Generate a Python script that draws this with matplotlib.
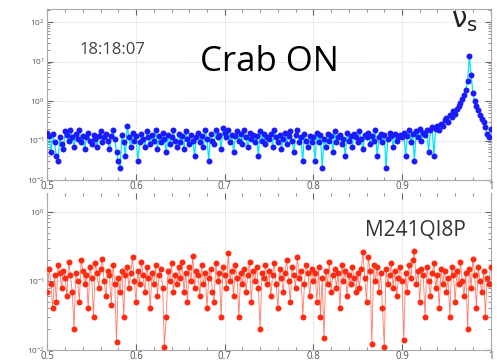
import numpy as np
import matplotlib
matplotlib.use("Agg")
import matplotlib.pyplot as plt
from matplotlib.ticker import LogLocator, MultipleLocator, NullFormatter

# frequency grid (0.5 .. 1.0, 251 bins)
freq = np.linspace(0.5, 1.0, 251)

# top panel: Crab ON power spectrum
crab_on = [
    0.16, 0.13, 0.05, 0.15, 0.09, 0.04, 0.03, 0.12, 0.08, 0.06, 0.17, 0.14, 0.10, 0.19, 0.12, 0.07, 0.15, 0.11, 0.18, 0.09, 0.13, 0.06, 0.12, 0.16, 0.10,
    0.08, 0.14, 0.11, 0.07, 0.13, 0.17, 0.09, 0.12, 0.15, 0.10, 0.06, 0.13, 0.18, 0.11, 0.05, 0.03, 0.02, 0.14, 0.09, 0.04, 0.24, 0.12, 0.07, 0.16, 0.10,
    0.13, 0.03, 0.09, 0.15, 0.11, 0.07, 0.17, 0.12, 0.08, 0.14, 0.10, 0.19, 0.06, 0.13, 0.09, 0.16, 0.11, 0.05, 0.14, 0.08, 0.12, 0.18, 0.10, 0.07, 0.15,
    0.09, 0.13, 0.06, 0.17, 0.11, 0.08, 0.14, 0.10, 0.04, 0.12, 0.16, 0.09, 0.13, 0.07, 0.18, 0.11, 0.03, 0.15, 0.10, 0.08, 0.19, 0.12, 0.14, 0.06, 0.21,
    0.16, 0.12, 0.18, 0.09, 0.14, 0.05, 0.13, 0.17, 0.10, 0.15, 0.08, 0.19, 0.12, 0.07, 0.16, 0.11, 0.14, 0.09, 0.13, 0.04, 0.17, 0.10, 0.15, 0.08, 0.12,
    0.11, 0.15, 0.07, 0.18, 0.12, 0.09, 0.14, 0.06, 0.11, 0.16, 0.08, 0.13, 0.17, 0.10, 0.05, 0.14, 0.19, 0.09, 0.12, 0.03, 0.15, 0.10, 0.07, 0.13, 0.09,
    0.12, 0.03, 0.16, 0.09, 0.14, 0.02, 0.11, 0.07, 0.15, 0.10, 0.13, 0.05, 0.17, 0.09, 0.12, 0.14, 0.08, 0.11, 0.04, 0.16, 0.10, 0.13, 0.07, 0.15, 0.12,
    0.09, 0.17, 0.11, 0.06, 0.14, 0.12, 0.16, 0.08, 0.13, 0.10, 0.18, 0.04, 0.12, 0.15, 0.09, 0.14, 0.02, 0.11, 0.16, 0.13, 0.07, 0.15, 0.10, 0.12, 0.14,
    0.12, 0.16, 0.04, 0.13, 0.19, 0.09, 0.15, 0.03, 0.17, 0.12, 0.20, 0.10, 0.16, 0.14, 0.19, 0.05, 0.18, 0.22, 0.04, 0.20, 0.24, 0.19, 0.27, 0.23, 0.33,
    0.38, 0.30, 0.45, 0.40, 0.55, 0.48, 0.62, 0.75, 0.90, 1.1, 1.4, 1.9, 3.2, 14.0, 4.5, 1.6, 1.0, 0.75, 0.58, 0.45, 0.35, 0.30, 0.22, 0.15, 0.12,
    0.20,
]

# bottom panel: M241QI8P
m241 = [
    0.07, 0.15, 0.09, 0.04, 0.12, 0.05, 0.17, 0.13, 0.08, 0.14, 0.11, 0.06, 0.19, 0.12, 0.07, 0.02, 0.13, 0.10, 0.05, 0.20, 0.14, 0.09, 0.12, 0.04, 0.16,
    0.11, 0.03, 0.18, 0.13, 0.08, 0.15, 0.21, 0.10, 0.06, 0.14, 0.12, 0.045, 0.17, 0.09, 0.013, 0.11, 0.07, 0.14, 0.03, 0.12, 0.16, 0.08, 0.13, 0.22, 0.10,
    0.05, 0.14, 0.09, 0.19, 0.12, 0.07, 0.16, 0.11, 0.04, 0.13, 0.09, 0.17, 0.06, 0.12, 0.15, 0.08, 0.011, 0.03, 0.14, 0.10, 0.18, 0.07, 0.12, 0.09, 0.16,
    0.11, 0.19, 0.07, 0.13, 0.05, 0.16, 0.10, 0.23, 0.08, 0.14, 0.12, 0.06, 0.17, 0.09, 0.13, 0.04, 0.11, 0.15, 0.07, 0.05, 0.18, 0.10, 0.13, 0.03, 0.16,
    0.12, 0.08, 0.25, 0.10, 0.14, 0.06, 0.17, 0.11, 0.03, 0.13, 0.09, 0.15, 0.07, 0.12, 0.19, 0.05, 0.14, 0.10, 0.16, 0.08, 0.02, 0.13, 0.11, 0.17, 0.09,
    0.14, 0.06, 0.12, 0.18, 0.09, 0.04, 0.15, 0.11, 0.07, 0.13, 0.20, 0.10, 0.05, 0.16, 0.12, 0.08, 0.22, 0.11, 0.14, 0.03, 0.09, 0.17, 0.13, 0.06, 0.15,
    0.10, 0.13, 0.05, 0.16, 0.03, 0.11, 0.015, 0.14, 0.09, 0.19, 0.07, 0.12, 0.15, 0.08, 0.13, 0.04, 0.17, 0.10, 0.14, 0.06, 0.12, 0.09, 0.16, 0.11, 0.07,
    0.13, 0.08, 0.15, 0.26, 0.11, 0.05, 0.22, 0.14, 0.012, 0.17, 0.10, 0.16, 0.07, 0.13, 0.04, 0.011, 0.15, 0.09, 0.12, 0.18, 0.08, 0.14, 0.06, 0.11, 0.16,
    0.10, 0.014, 0.13, 0.07, 0.17, 0.11, 0.20, 0.27, 0.09, 0.14, 0.05, 0.15, 0.12, 0.03, 0.16, 0.10, 0.06, 0.13, 0.18, 0.08, 0.12, 0.04, 0.15, 0.09, 0.14,
    0.07, 0.11, 0.03, 0.16, 0.12, 0.05, 0.14, 0.09, 0.19, 0.10, 0.06, 0.13, 0.02, 0.15, 0.08, 0.21, 0.12, 0.04, 0.16, 0.10, 0.07, 0.14, 0.03, 0.11, 0.09,
    0.16,
]

x_ticks = [0.5, 0.6, 0.7, 0.8, 0.9, 1.0]
x_labels = ["0.5", "0.6", "0.7", "0.8", "0.9", "1"]

plt.rcParams['font.family'] = ['Open Sans', 'DejaVu Sans']

fig = plt.figure(figsize=(4.97, 3.63), dpi=100)
ax1 = fig.add_axes([0.0954, 0.504, 0.8918, 0.471])
ax2 = fig.add_axes([0.0954, 0.036, 0.8918, 0.432])


def style(ax, ylim):
    ax.set_yscale('log')
    ax.set_xlim(0.5, 1.0)
    ax.set_ylim(*ylim)
    ax.set_xticks(x_ticks)
    ax.set_xticklabels(x_labels)
    ax.xaxis.set_minor_locator(MultipleLocator(0.02))
    ax.yaxis.set_major_locator(LogLocator(base=10, numticks=10))
    ax.yaxis.set_minor_locator(LogLocator(base=10, subs=np.arange(2, 10), numticks=20))
    ax.yaxis.set_minor_formatter(NullFormatter())
    ax.tick_params(which='both', direction='in', top=True, right=True, colors='#666666',
                   labelcolor='#555555', labelsize=7, pad=1)
    ax.tick_params(which='major', length=4, width=0.8)
    ax.tick_params(which='minor', length=2, width=0.5)
    ax.tick_params(axis='y', labelsize=6, pad=2)
    ax.grid(True, which='major', color='#cccccc', linestyle=':', linewidth=0.7)
    for s in ax.spines.values():
        s.set_color('#aaaaaa')
        s.set_linewidth(0.8)


style(ax1, (1e-2, 10 ** 2.33))
style(ax2, (1e-2, 10 ** 0.27))
ax2.spines['top'].set_visible(False)

ax1.plot(freq, crab_on, color='#00e5ff', linewidth=0.9, zorder=2)
ax1.plot(freq, crab_on, linestyle='none', marker='o', markersize=4.3,
         color='#1a1aff', markeredgewidth=0, zorder=3)

ax2.plot(freq, m241, color='#ff7a66', linewidth=0.6, zorder=2)
ax2.plot(freq, m241, linestyle='none', marker='o', markersize=4.3,
         color='#ff2a10', markeredgewidth=0, zorder=3)

fig.text(0.161, 0.862, "18:18:07", fontsize=12, color='#444444', va='center', ha='left')
fig.text(0.402, 0.829, "Crab ON", fontsize=25, color='black', va='center', ha='left')
fig.text(0.907, 0.945, r"$\mathrm{\nu}_\mathrm{s}$", fontsize=20, color='#222222',
         va='center', ha='left')
fig.text(0.734, 0.366, "M241QI8P", fontsize=15, color='#333333', va='center', ha='left')

fig.savefig("out.png", dpi=100)
